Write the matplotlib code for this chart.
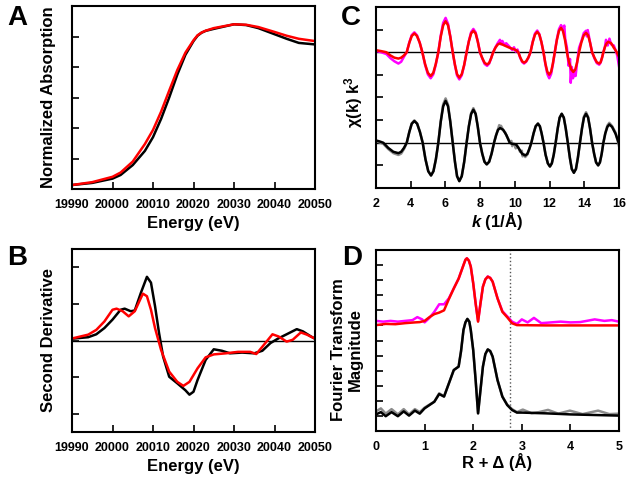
import matplotlib
matplotlib.use('Agg')
import matplotlib.pyplot as plt

plt.rcParams['font.family'] = ['Liberation Sans', 'DejaVu Sans']
plt.rcParams['font.weight'] = 'bold'
plt.rcParams['mathtext.fontset'] = 'custom'
plt.rcParams['mathtext.it'] = 'Liberation Sans:italic:bold'
plt.rcParams['mathtext.rm'] = 'Liberation Sans:bold'
plt.rcParams['mathtext.bf'] = 'Liberation Sans:bold'

# --- A: normalized absorption ---
e_a = [19990, 19995, 20000, 20002, 20005, 20008, 20010, 20012, 20014, 20016,
       20018, 20020, 20021, 20022, 20023, 20025, 20030, 20033, 20036, 20040,
       20043, 20046, 20050]
abs_black = [0.026, 0.04, 0.068, 0.092, 0.157, 0.25, 0.34, 0.46, 0.60, 0.75,
             0.88, 0.97, 1.005, 1.025, 1.037, 1.05, 1.08, 1.075, 1.055, 1.015,
             0.985, 0.958, 0.948]
abs_red = [0.026, 0.045, 0.08, 0.108, 0.18, 0.295, 0.387, 0.507, 0.645, 0.78,
           0.894, 0.975, 1.008, 1.026, 1.038, 1.055, 1.08, 1.077, 1.062, 1.03,
           1.005, 0.985, 0.97]

# --- B: second derivative ---
e_b_black = [19990, 19994, 19996, 19998, 20000, 20002, 20003, 20004.5, 20005.5,
             20007, 20008.5, 20009.5, 20010.5, 20011.5, 20012.5, 20014, 20016,
             20018, 20019, 20020, 20021, 20023, 20025, 20027, 20029, 20032,
             20035, 20037, 20039, 20041, 20043, 20045.5, 20047, 20049, 20050]
d2_black = [0.05, 0.09, 0.17, 0.34, 0.57, 0.84, 0.87, 0.80, 0.82,
            1.30, 1.74, 1.58, 0.94, 0.20, -0.44, -0.99, -1.17,
            -1.36, -1.48, -1.40, -1.08, -0.53, -0.24, -0.28, -0.35, -0.33,
            -0.35, -0.28, -0.07, 0.06, 0.17, 0.31, 0.25, 0.11, 0.05]
e_b_red = [19990, 19994, 19996, 19998, 20000, 20001, 20002.5, 20004, 20005.5,
           20007.5, 20008.5, 20009.5, 20010.5, 20012, 20014, 20016, 20017.5,
           20019, 20021, 20023, 20025, 20028, 20031, 20034, 20035.5, 20037,
           20039.5, 20041, 20043, 20044.5, 20046.5, 20048, 20050]
d2_red = [0.055, 0.16, 0.29, 0.52, 0.84, 0.87, 0.80, 0.66, 0.80,
          1.28, 1.21, 0.84, 0.34, -0.26, -0.85, -1.13, -1.24,
          -1.13, -0.76, -0.46, -0.38, -0.35, -0.31, -0.31, -0.37, -0.17,
          0.17, 0.11, -0.03, 0.02, 0.22, 0.16, 0.05]

# --- C: EXAFS chi(k) k^3 (lower pair: fit + data, upper pair: fit + data) ---
k_black = [2.0, 2.2, 2.42, 2.71, 3.0, 3.29, 3.45, 3.61, 3.77, 3.92, 4.06, 4.21,
           4.37, 4.53, 4.69, 4.85, 5.01, 5.17, 5.31, 5.45, 5.59, 5.73, 5.87,
           6.01, 6.15, 6.28, 6.42, 6.55, 6.67, 6.8, 6.94, 7.08, 7.22, 7.35,
           7.48, 7.61, 7.74, 7.86, 7.99, 8.12, 8.25, 8.38, 8.52, 8.66, 8.8,
           8.92, 9.03, 9.15, 9.33, 9.52, 9.7, 9.85, 10.0, 10.1, 10.25, 10.42,
           10.6, 10.72, 10.83, 10.95, 11.08, 11.2, 11.33, 11.44, 11.54, 11.65,
           11.77, 11.9, 12.02, 12.13, 12.24, 12.35, 12.47, 12.58, 12.7, 12.82,
           12.93, 13.05, 13.17, 13.28, 13.4, 13.52, 13.63, 13.75, 13.87, 13.98,
           14.1, 14.22, 14.33, 14.45, 14.57, 14.68, 14.8, 14.9, 15.0, 15.1,
           15.21, 15.33, 15.44, 15.6, 15.8, 16.0]
chi_black = [1.0, 0.6, 0.0, -2.3, -4.0, -4.6, -4.0, -2.3, 0.0, 4.8, 8.4, 9.6,
             8.4, 4.8, 0.0, -7.3, -12.6, -14.5, -12.6, -7.3, 0.0, 9.3, 16.1,
             18.5, 16.1, 9.3, 0.0, -8.5, -14.8, -17.0, -14.8, -8.5, 0.0, 7.3,
             12.7, 14.6, 12.7, 7.3, 0.0, -4.8, -8.4, -9.6, -8.4, -4.8, 0.0,
             3.3, 5.7, 6.5, 5.7, 3.3, 0.0, -0.5, -0.6, -1.0, -2.8, -4.9, -5.6,
             -4.9, -2.8, 0.0, 4.2, 7.3, 8.4, 7.3, 4.2, 0.0, -5.3, -9.1, -10.5,
             -9.1, -5.3, 0.0, 6.4, 11.1, 12.8, 11.1, 6.4, 0.0, -6.7, -11.6,
             -13.3, -11.6, -6.7, 0.0, 6.4, 11.1, 12.8, 11.1, 6.4, 0.0, -5.0,
             -8.7, -10.0, -8.7, -5.0, 0.0, 4.1, 7.0, 8.1, 7.0, 4.0, -0.4]
k_gray = [2.0, 2.2, 2.42, 2.71, 3.0, 3.29, 3.45, 3.61, 3.77, 3.92, 4.06, 4.21,
          4.37, 4.53, 4.69, 4.85, 5.01, 5.17, 5.31, 5.45, 5.59, 5.73, 5.87,
          6.01, 6.15, 6.28, 6.42, 6.55, 6.67, 6.8, 6.94, 7.08, 7.22, 7.35,
          7.48, 7.61, 7.74, 7.86, 7.99, 8.12, 8.25, 8.38, 8.52, 8.66, 8.8,
          8.92, 9.03, 9.1, 9.15, 9.2, 9.33, 9.45, 9.52, 9.6, 9.7, 9.8, 9.85,
          9.9, 10.0, 10.05, 10.1, 10.2, 10.3, 10.4, 10.45, 10.5, 10.6, 10.72,
          10.83, 10.95, 11.08, 11.2, 11.33, 11.44, 11.54, 11.65, 11.77, 11.9,
          12.02, 12.13, 12.24, 12.35, 12.47, 12.58, 12.7, 12.82, 12.93, 13.05,
          13.17, 13.28, 13.4, 13.52, 13.63, 13.75, 13.87, 13.98, 14.1, 14.22,
          14.33, 14.45, 14.57, 14.68, 14.8, 14.9, 15.0, 15.1, 15.21, 15.33,
          15.44, 15.6, 15.8, 16.0]
chi_gray = [0.6, 0.2, -0.5, -2.8, -4.6, -5.4, -4.8, -2.8, -0.2, 4.8, 8.6, 9.9,
            8.5, 4.8, 0.0, -7.3, -12.5, -14.3, -12.5, -7.3, 0.0, 9.5, 17.0,
            19.6, 16.8, 9.5, 0.0, -8.5, -14.8, -16.8, -14.8, -8.5, 0.0, 7.3,
            13.0, 15.3, 13.0, 7.3, 0.0, -4.8, -8.4, -9.4, -8.4, -4.8, 0.0, 3.5,
            6.0, 7.8, 6.5, 7.5, 5.5, 4.5, 3.0, 2.0, 0.5, 0.8, -1.5, -0.5,
            -1.0, -2.5, -1.5, -2.0, -4.0, -3.5, -6.0, -5.0, -6.3, -5.2, -2.8,
            0.0, 4.2, 7.3, 8.6, 7.3, 4.2, 0.0, -5.3, -9.1, -10.5, -9.1, -5.3,
            0.0, 6.4, 11.1, 12.8, 11.1, 6.4, 0.0, -6.7, -11.6, -13.0, -11.6,
            -6.7, 0.0, 6.6, 11.6, 13.5, 11.4, 6.4, 0.0, -5.0, -8.7, -10.0,
            -8.7, -5.0, 0.0, 4.3, 7.6, 8.8, 7.4, 4.5, -1.5]
k_red = [2.0, 2.3, 2.6, 2.83, 3.06, 3.29, 3.45, 3.61, 3.77, 3.92, 4.06, 4.21,
         4.36, 4.52, 4.67, 4.83, 4.99, 5.15, 5.3, 5.44, 5.59, 5.73, 5.87, 6.01,
         6.15, 6.28, 6.42, 6.55, 6.67, 6.8, 6.94, 7.08, 7.22, 7.35, 7.48, 7.61,
         7.74, 7.86, 7.99, 8.13, 8.26, 8.4, 8.52, 8.63, 8.75, 8.88, 9.01, 9.14,
         9.4, 9.72, 9.95, 10.1, 10.2, 10.31, 10.42, 10.53, 10.65, 10.78, 10.9,
         11.03, 11.16, 11.29, 11.41, 11.53, 11.65, 11.76, 11.87, 11.98, 12.09,
         12.19, 12.3, 12.42, 12.54, 12.66, 12.77, 12.89, 13.0, 13.12, 13.25,
         13.37, 13.48, 13.59, 13.7, 13.83, 13.97, 14.1, 14.22, 14.33, 14.45,
         14.59, 14.72, 14.86, 14.94, 15.02, 15.1, 15.19, 15.29, 15.38, 15.55,
         15.7, 15.85, 16.0]
chi_red = [0.9, 0.5, 0.0, -1.4, -2.4, -2.8, -2.4, -1.4, 0.0, 4.2, 7.2, 8.3,
           7.2, 4.2, 0.0, -5.3, -9.1, -10.5, -9.1, -5.3, 0.0, 6.9, 11.9, 13.7,
           11.9, 6.9, 0.0, -5.6, -9.7, -11.2, -9.7, -5.6, 0.0, 4.8, 8.3, 9.5,
           8.3, 4.8, 0.0, -2.7, -4.7, -5.4, -4.7, -2.7, 0.0, 2.0, 3.4, 3.9,
           3.0, 1.9, 1.3, 0.8, 0.0, -2.3, -4.0, -4.6, -4.0, -2.3, 0.0, 4.5,
           7.8, 9.0, 7.8, 4.5, 0.0, -5.0, -8.6, -9.9, -8.6, -5.0, 0.0, 5.4,
           9.4, 10.8, 9.4, 5.4, 0.0, -4.4, -7.6, -8.7, -7.6, -4.4, 0.0, 4.3,
           7.5, 8.6, 7.5, 4.3, 0.0, -2.5, -4.4, -5.0, -4.4, -2.5, 0.0, 2.3,
           4.0, 4.6, 4.0, 2.0, 0.3, -2.0]
k_mag = [2.0, 2.3, 2.6, 2.83, 3.06, 3.29, 3.45, 3.61, 3.77, 3.92, 4.06, 4.21,
         4.36, 4.52, 4.67, 4.83, 4.99, 5.15, 5.3, 5.44, 5.59, 5.73, 5.87, 6.01,
         6.15, 6.28, 6.42, 6.55, 6.67, 6.8, 6.94, 7.08, 7.22, 7.35, 7.48, 7.61,
         7.74, 7.86, 7.99, 8.13, 8.26, 8.4, 8.52, 8.63, 8.75, 8.88, 9.01, 9.14,
         9.2, 9.28, 9.4, 9.5, 9.72, 9.85, 9.95, 10.05, 10.15, 10.31, 10.42,
         10.53, 10.65, 10.78, 10.9, 11.03, 11.16, 11.29, 11.41, 11.53, 11.65,
         11.76, 11.87, 11.98, 12.09, 12.19, 12.3, 12.42, 12.54, 12.66, 12.77,
         12.85, 12.9, 13.0, 13.1, 13.18, 13.22, 13.28, 13.35, 13.42, 13.5,
         13.6, 13.7, 13.83, 13.97, 14.1, 14.15, 14.2, 14.33, 14.45, 14.59,
         14.72, 14.86, 14.94, 15.02, 15.1, 15.19, 15.25, 15.35, 15.45, 15.55,
         15.7, 15.8, 15.9, 16.0]
chi_mag = [0.6, 0.0, -0.8, -2.6, -4.0, -5.0, -4.2, -2.0, 0.0, 4.4, 7.6, 8.8,
           7.5, 4.2, 0.0, -5.6, -9.8, -11.5, -9.8, -5.6, 0.0, 7.4, 13.0, 15.2,
           12.6, 7.0, 0.0, -5.8, -10.3, -12.0, -10.2, -5.8, 0.0, 5.0, 8.9,
           10.3, 8.8, 5.0, 0.0, -2.9, -5.2, -6.0, -5.0, -2.7, 0.0, 2.2, 4.0,
           5.5, 3.5, 5.0, 3.2, 4.0, 2.2, 1.0, 2.2, 0.3, 1.2, -2.5, -4.3,
           -5.0, -4.2, -2.4, 0.0, 4.7, 8.3, 9.6, 8.0, 4.5, 0.0, -5.4, -9.6,
           -11.5, -9.6, -5.4, 0.0, 5.8, 10.2, 12.0, 10.5, 11.8, 6.0, 2.0,
           -6.0, -3.0, -13.5, -6.5, -11.5, -8.0, -10.5, -3.5, 2.0, 4.8, 8.5,
           9.5, 7.0, 9.8, 4.5, 0.0, -2.8, -4.8, -5.5, -4.6, -2.5, 0.0, 2.5,
           5.5, 3.0, 6.0, 3.5, 3.0, 1.0, -1.5, -6.2]

# --- D: Fourier transform magnitude ---
r_black = [0.0, 0.1, 0.2, 0.32, 0.45, 0.57, 0.68, 0.8, 0.9, 1.0, 1.1, 1.2,
           1.3, 1.4, 1.5, 1.6, 1.7, 1.75, 1.8, 1.84, 1.88, 1.92, 1.95, 2.0,
           2.05, 2.1, 2.15, 2.2, 2.25, 2.3, 2.35, 2.4, 2.5, 2.6, 2.7, 2.8,
           2.9, 3.0, 3.5, 4.0, 4.5, 5.0]
ft_black = [1.1, 1.25, 0.98, 1.25, 0.98, 1.3, 1.02, 1.35, 1.15, 1.5, 1.72,
            1.94, 2.45, 2.28, 3.16, 4.04, 4.27, 5.3, 6.7, 7.2, 7.43, 7.25,
            6.7, 5.37, 3.38, 1.17, 2.72, 4.27, 5.1, 5.41, 5.3, 4.93, 3.38,
            2.28, 1.72, 1.39, 1.22, 1.22, 1.17, 1.1, 1.06, 1.02]
r_gray = [0.0, 0.1, 0.2, 0.32, 0.45, 0.57, 0.68, 0.8, 0.9, 1.0, 1.1, 1.2,
          1.3, 1.4, 1.5, 1.6, 1.7, 1.75, 1.8, 1.84, 1.88, 1.92, 1.95, 2.0,
          2.05, 2.1, 2.15, 2.2, 2.25, 2.3, 2.35, 2.4, 2.5, 2.6, 2.7, 2.8, 2.9,
          3.02, 3.2, 3.35, 3.54, 3.75, 3.99, 4.25, 4.57, 4.8, 5.0]
ft_gray = [1.3, 1.5, 1.15, 1.45, 1.1, 1.45, 1.1, 1.45, 1.25, 1.55, 1.75,
           1.94, 2.5, 2.3, 3.16, 4.04, 4.27, 5.3, 6.7, 7.2, 7.43, 7.25, 6.7,
           5.37, 3.38, 1.17, 2.72, 4.27, 5.1, 5.41, 5.3, 4.93, 3.38, 2.28,
           1.75, 1.45, 1.25, 1.42, 1.18, 1.25, 1.4, 1.15, 1.35, 1.12, 1.35,
           1.12, 1.15]
r_red = [0.0, 0.2, 0.4, 0.6, 0.8, 0.9, 1.0, 1.1, 1.2, 1.3, 1.4, 1.5, 1.6, 1.7,
         1.8, 1.84, 1.87, 1.91, 1.95, 2.0, 2.05, 2.1, 2.15, 2.2, 2.25, 2.3,
         2.35, 2.4, 2.5, 2.6, 2.7, 2.8, 2.9, 3.5, 4.0, 4.5, 5.0]
ft_red = [7.02, 7.1, 7.08, 7.15, 7.2, 7.22, 7.3, 7.55, 7.75, 7.85, 8.0, 8.75,
          9.45, 10.1, 11.0, 11.35, 11.45, 11.3, 10.9, 9.8, 8.46, 7.25, 8.46,
          9.57, 10.05, 10.23, 10.15, 9.9, 8.8, 7.9, 7.54, 7.14, 7.02, 7.0,
          7.0, 7.0, 7.0]
r_mag = [0.0, 0.15, 0.3, 0.45, 0.6, 0.75, 0.85, 0.95, 1.0, 1.1, 1.2, 1.3, 1.4,
         1.5, 1.6, 1.7, 1.8, 1.84, 1.87, 1.91, 1.95, 2.0, 2.05, 2.1, 2.15,
         2.2, 2.25, 2.3, 2.35, 2.4, 2.5, 2.6, 2.7, 2.8, 2.9, 3.0, 3.12, 3.25,
         3.4, 3.6, 3.8, 4.0, 4.2, 4.5, 4.7, 4.85, 5.0]
ft_mag = [7.3, 7.25, 7.3, 7.25, 7.3, 7.35, 7.55, 7.4, 7.2, 7.5, 7.9, 8.4,
          8.4, 8.8, 9.45, 10.1, 11.0, 11.35, 11.45, 11.3, 10.9, 9.8, 8.46,
          7.3, 8.46, 9.57, 10.05, 10.25, 10.15, 9.9, 8.8, 7.95, 7.6, 7.25,
          7.1, 7.4, 7.2, 7.5, 7.15, 7.2, 7.25, 7.2, 7.22, 7.4, 7.3, 7.35,
          7.25]

chi_offset = 40
ft_cut = 2.75

W, H = 631, 483
LW = 1.8
fig = plt.figure(figsize=(W / 100, H / 100), dpi=100)


def box(l, t, r, b):
    return [l / W, 1 - b / H, (r - l) / W, (b - t) / H]


def style(ax):
    for s in ax.spines.values():
        s.set_linewidth(1.5)
    ax.tick_params(direction='in', length=5, width=1.2, top=False, right=False,
                   labelleft=False, labelsize=9, pad=7)


axA = fig.add_axes(box(72, 6, 315, 189))
axB = fig.add_axes(box(72, 249, 315, 432))
axC = fig.add_axes(box(376, 7, 619, 188))
axD = fig.add_axes(box(376, 250, 619, 431))

# A
axA.plot(e_a, abs_black, color='black', lw=LW)
axA.plot(e_a, abs_red, color='red', lw=LW)
axA.set_xlim(19990, 20050)
axA.set_ylim(0, 1.2)
axA.set_yticks([0.2, 0.4, 0.6, 0.8, 1.0])
axA.set_xticks(range(19990, 20051, 10))
style(axA)
axA.set_xlabel('Energy (eV)', fontsize=12, fontweight='bold')
axA.set_ylabel('Normalized Absorption', fontsize=12, fontweight='bold')
axA.yaxis.set_label_coords(-0.066, 0.5)

# B
axB.axhline(0, color='black', lw=1.0)
axB.plot(e_b_black, d2_black, color='black', lw=LW)
axB.plot(e_b_red, d2_red, color='red', lw=LW)
axB.set_xlim(19990, 20050)
axB.set_ylim(-2.5, 2.5)
axB.set_yticks([-2, -1, 0, 1, 2])
axB.set_xticks(range(19990, 20051, 10))
style(axB)
axB.set_xlabel('Energy (eV)', fontsize=12, fontweight='bold')
axB.set_ylabel('Second Derivative', fontsize=12, fontweight='bold')
axB.yaxis.set_label_coords(-0.066, 0.5)

# C
axC.axhline(0, color='black', lw=1.0)
axC.axhline(chi_offset, color='black', lw=1.0)
axC.plot(k_gray, chi_gray, color='#8c8c8c', lw=LW)
axC.plot(k_black, chi_black, color='black', lw=LW)
axC.plot(k_mag, [v + chi_offset for v in chi_mag], color='#ff00ff', lw=LW)
axC.plot(k_red, [v + chi_offset for v in chi_red], color='red', lw=LW)
axC.set_xlim(2, 16)
axC.set_ylim(-20, 60)
axC.set_yticks(range(-20, 61, 10))
axC.set_xticks(range(2, 17, 2))
style(axC)
axC.set_xlabel('$k$ (1/Å)', fontsize=12, fontweight='bold', labelpad=0)
axC.set_ylabel('χ(k) k$^3$', fontsize=12, fontweight='bold')
axC.yaxis.set_label_coords(-0.045, 0.477)

# D
axD.axvline(ft_cut, color='#555555', lw=1.0, ls=':')
axD.plot(r_gray, ft_gray, color='#8c8c8c', lw=LW)
axD.plot(r_black, ft_black, color='black', lw=LW)
axD.plot(r_mag, ft_mag, color='#ff00ff', lw=LW)
axD.plot(r_red, ft_red, color='red', lw=LW)
axD.set_xlim(0, 5)
axD.set_ylim(0, 12)
axD.set_yticks(range(0, 13))
axD.set_xticks(range(0, 6))
style(axD)
axD.set_xlabel('R + Δ (Å)', fontsize=12, fontweight='bold', labelpad=0)
axD.set_ylabel('Fourier Transform\nMagnitude', fontsize=12, fontweight='bold',
               linespacing=1.15)
axD.yaxis.set_label_coords(-0.055, 0.45)

for lab, x, y in [('A', 7, 18), ('B', 7, 258), ('C', 341, 18), ('D', 342, 258)]:
    fig.text(x / W, 1 - y / H, lab, fontsize=20, fontweight='bold',
             ha='left', va='center')

fig.savefig('out.png', dpi=100)
